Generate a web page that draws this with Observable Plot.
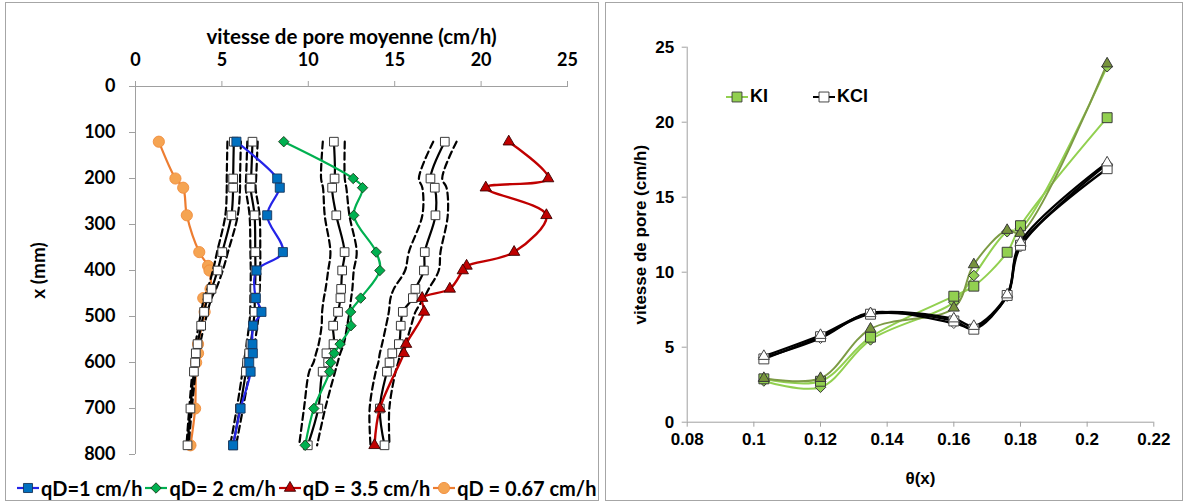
<!DOCTYPE html>
<html><head><meta charset="utf-8">
<script src="https://cdn.jsdelivr.net/npm/d3@7"></script>
<script src="https://cdn.jsdelivr.net/npm/@observablehq/plot@0.6"></script>
<style>
html,body{margin:0;padding:0;background:#fff;}
body{width:1184px;height:502px;position:relative;overflow:hidden;}
.frame{position:absolute;border:1px solid #a6a6a6;box-sizing:border-box;}
#left{position:absolute;left:0;top:0;}
#right{position:absolute;left:600px;top:0;}
#legL{position:absolute;left:17px;top:476px;display:flex;align-items:center;gap:3px;font:bold 20px Lato,sans-serif;white-space:nowrap;}
#legR{position:absolute;left:726px;top:86px;display:flex;align-items:center;font:bold 18px "Liberation Sans",Arial,sans-serif;white-space:nowrap;}
.item{display:flex;align-items:center;gap:2px;}
svg g[aria-label$="-axis tick"]{stroke:#a0a0a0;}
</style></head>
<body>
<div class="frame" style="left:5px;top:2px;width:594px;height:499px"></div>
<div class="frame" style="left:605px;top:2px;width:578px;height:499px"></div>
<div id="left"></div>
<div id="right"></div>
<div id="legL"></div>
<div id="legR"></div>
<script>
// ---------- LEFT PANEL DATA ----------
const xTicksL = [0, 5, 10, 15, 20, 25];
const yTicksL = [0, 100, 200, 300, 400, 500, 600, 700, 800];
const depthsBG = [120, 200, 220, 280, 360, 400, 460, 490, 520, 560, 580, 600, 620, 700, 780];
const qd1 = [5.84, 8.2, 8.35, 7.62, 8.53, 7.0, 6.96, 7.29, 6.81, 6.77, 6.79, 6.58, 6.66, 6.08, 5.65];
const qd2 = [8.58, 12.6, 13.14, 12.63, 13.93, 14.14, 13.03, 12.45, 12.47, 11.84, 11.5, 11.3, 11.24, 10.32, 9.82];
const depthsRed = [120, 200, 220, 280, 360, 390, 400, 440, 460, 490, 560, 580, 700, 780];
const qd35 = [21.6, 23.88, 20.27, 23.78, 21.91, 19.16, 18.94, 18.19, 16.59, 16.7, 15.66, 15.53, 14.14, 13.83];
const depthsOr = [120, 200, 220, 280, 360, 390, 400, 440, 460, 490, 560, 580, 600, 700, 780];
const qd067 = [1.35, 2.31, 2.76, 2.97, 3.69, 4.2, 4.28, 4.34, 3.92, 4.0, 3.62, 3.62, 3.51, 3.45, 3.18];

const depthsModel = [120, 200, 220, 280, 360, 400, 440, 460, 490, 520, 560, 580, 600, 620, 700, 780];
const m1 = [5.69, 5.65, 5.65, 5.55, 5.02, 4.75, 4.4, 4.17, 3.97, 3.8, 3.59, 3.49, 3.45, 3.38, 3.18, 3.01];
const m1Lo = [5.32, 5.28, 5.28, 5.2, 4.72, 4.48, 4.17, 3.97, 3.8, 3.65, 3.47, 3.38, 3.35, 3.29, 3.11, 2.95];
const m1Hi = [6.1, 6.05, 6.05, 5.92, 5.35, 5.05, 4.66, 4.4, 4.17, 3.98, 3.73, 3.62, 3.56, 3.48, 3.26, 3.08];
const m2 = [6.77, 6.69, 6.66, 6.89, 6.93, 6.94, 6.92, 6.9, 6.89, 6.81, 6.66, 6.58, 6.46, 6.39, 6.04, 5.65];
const m2Lo = [6.47, 6.4, 6.38, 6.6, 6.65, 6.67, 6.66, 6.65, 6.64, 6.57, 6.43, 6.36, 6.25, 6.19, 5.86, 5.48];
const m2Hi = [7.07, 6.98, 6.95, 7.18, 7.22, 7.22, 7.19, 7.16, 7.14, 7.05, 6.89, 6.8, 6.67, 6.59, 6.22, 5.82];
const m3 = [11.48, 11.52, 11.38, 11.62, 12.1, 11.96, 11.9, 11.86, 11.72, 11.44, 11.46, 11.05, 11.15, 10.83, 10.58, 9.97];
const m3Lo = [10.84, 10.74, 10.85, 10.95, 11.28, 11.15, 11.0, 10.9, 10.8, 10.77, 10.6, 10.45, 10.3, 10.05, 9.75, 9.47];
const m3Hi = [12.11, 12.11, 12.2, 12.38, 12.8, 12.63, 12.55, 12.48, 12.38, 12.25, 12.05, 11.85, 11.7, 11.55, 10.98, 10.51];
const m4 = [17.9, 17.07, 17.32, 17.36, 16.74, 16.69, 16.2, 16.05, 15.47, 15.35, 15.24, 14.86, 14.7, 14.55, 14.14, 14.41];
const m4Lo = [17.23, 16.4, 16.6, 16.6, 15.82, 15.6, 14.95, 14.76, 14.66, 14.5, 14.27, 14.14, 14.05, 13.9, 13.55, 13.6];
const m4Hi = [18.58, 17.75, 18.0, 18.07, 17.65, 17.55, 16.97, 16.69, 16.2, 15.95, 15.62, 15.34, 15.2, 15.05, 14.69, 14.7];

// ---------- RIGHT PANEL DATA ----------
const thetaTicks = [0.08, 0.1, 0.12, 0.14, 0.16, 0.18, 0.2, 0.22];
const vTicks = [0, 5, 10, 15, 20, 25];
const theta = [0.103, 0.12, 0.135, 0.16, 0.166, 0.176, 0.18, 0.206];
const kiSquare = [2.89, 2.73, 5.67, 8.4, 9.07, 11.33, 13.1, 20.3];
const kiDiamond = [2.75, 2.33, 5.49, 8.0, 9.78, 12.7, 12.9, 23.7];
const kiTriangle = [2.93, 2.93, 6.22, 7.62, 10.51, 12.8, 12.6, 23.9];
const kclSquare = [4.22, 5.7, 7.2, 6.75, 6.2, 8.45, 11.8, 16.9];
const kclDiamond = [4.3, 5.6, 7.3, 6.6, 6.3, 8.4, 11.7, 17.2];
const kclTriangle = [4.4, 5.8, 7.25, 6.9, 6.4, 8.5, 12.0, 17.3];

// ---------- helpers ----------
const rows = (vals, ds) => vals.map((v, i) => ({v, d: ds[i]}));
const tRows = (vals) => vals.map((v, i) => ({t: theta[i], v}));
const symArea = (r) => Math.PI * r * r;

const fontL = "Lato, 'Open Sans', sans-serif";
const fontR = "'Liberation Sans', Arial, sans-serif";

const leftSeries = [
  {name: "qD=1 cm/h", data: rows(qd1, depthsBG), line: "#2424e8", fill: "#0070c0", stroke: "#17375e", symbol: "square", r: 5.1},
  {name: "qD= 2 cm/h", data: rows(qd2, depthsBG), line: "#00b050", fill: "#00b050", stroke: "#1b3b1b", symbol: "diamond2", r: 4.7},
  {name: "qD = 3.5 cm/h", data: rows(qd35, depthsRed), line: "#c00000", fill: "#c00000", stroke: "#3b0000", symbol: "triangle", r: 4.2},
  {name: "qD = 0.67 cm/h", data: rows(qd067, depthsOr), line: "#ed7d31", fill: "#f5a452", stroke: "#f08c3c", symbol: "circle", r: 5.6}
];
const models = [[m1, m1Lo, m1Hi], [m2, m2Lo, m2Hi], [m3, m3Lo, m3Hi], [m4, m4Lo, m4Hi]];

function seriesMarks(s, lw) {
  return [
    Plot.line(s.data, {x: "v", y: "d", curve: "catmull-rom", stroke: s.line, strokeWidth: lw}),
    Plot.dot(s.data, {x: "v", y: "d", symbol: s.symbol, r: s.r, fill: s.fill, stroke: s.stroke, strokeWidth: 0.9})
  ];
}
function modelMarks([m, lo, hi]) {
  const mr = rows(m, depthsModel);
  return [
    Plot.line(rows(lo, depthsModel), {x: "v", y: "d", curve: "catmull-rom", stroke: "#000", strokeWidth: 2.2, strokeDasharray: "7,4"}),
    Plot.line(rows(hi, depthsModel), {x: "v", y: "d", curve: "catmull-rom", stroke: "#000", strokeWidth: 2.2, strokeDasharray: "7,4"}),
    Plot.line(mr, {x: "v", y: "d", curve: "catmull-rom", stroke: "#000", strokeWidth: 2.2}),
    Plot.dot(mr, {x: "v", y: "d", symbol: "square", r: 4.9, fill: "#fff", stroke: "#3a3a3a", strokeWidth: 1})
  ];
}

const left = Plot.plot({
  width: 600, height: 470,
  marginTop: 86, marginBottom: 16, marginLeft: 135, marginRight: 33,
  style: {fontFamily: fontL, background: "transparent", overflow: "visible", color: "#000"},
  x: {domain: [0, 25]},
  y: {domain: [0, 800], reverse: true},
  marks: [
    Plot.ruleY([0], {stroke: "#a0a0a0"}),
    Plot.ruleX([0], {stroke: "#a0a0a0"}),
    Plot.axisX({anchor: "top", ticks: xTicksL, tickSize: 6, tickPadding: 15, fontSize: 18, fontWeight: "bold", label: null}),
    Plot.axisY({anchor: "left", ticks: yTicksL, tickSize: 6, tickPadding: 14, fontSize: 18, fontWeight: "bold", label: null}),
    Plot.text(["vitesse de pore moyenne (cm/h)"], {frameAnchor: "top", dy: -49, lineAnchor: "middle", fontSize: 20.5, fontWeight: "bold"}),
    Plot.text(["x (mm)"], {frameAnchor: "left", dx: -97, rotate: -90, textAnchor: "middle", lineAnchor: "middle", fontSize: 19, fontWeight: "bold"}),
    ...seriesMarks(leftSeries[3], 2.2),
    ...models.flatMap(modelMarks),
    ...seriesMarks(leftSeries[0], 2.2),
    ...seriesMarks(leftSeries[1], 2.2),
    ...seriesMarks(leftSeries[2], 2.4)
  ]
});
document.getElementById("left").append(left);

// ---------- RIGHT PANEL ----------
const kiSeries = [
  {data: tRows(kiDiamond), line: "#92d050", fill: "#92d050", stroke: "#3a3a3a", symbol: "diamond2", r: 4.8},
  {data: tRows(kiSquare), line: "#92d050", fill: "#92d050", stroke: "#3a3a3a", symbol: "square", r: 5.6},
  {data: tRows(kiTriangle), line: "#7d9b45", fill: "#77933c", stroke: "#3a3a3a", symbol: "triangle", r: 4.1}
];
const kclSeries = [
  {data: tRows(kclDiamond), symbol: "diamond2", r: 4.8},
  {data: tRows(kclSquare), symbol: "square", r: 5.6},
  {data: tRows(kclTriangle), symbol: "triangle", r: 4.1}
];

const right = Plot.plot({
  width: 584, height: 502,
  marginTop: 46.7, marginBottom: 80.3, marginLeft: 86.7, marginRight: 30.7,
  style: {fontFamily: fontR, background: "transparent", overflow: "visible", color: "#000"},
  x: {domain: [0.08, 0.22]},
  y: {domain: [0, 25]},
  marks: [
    Plot.ruleY([0], {stroke: "#a0a0a0"}),
    Plot.ruleX([0.08], {stroke: "#a0a0a0"}),
    Plot.axisX({ticks: thetaTicks, tickFormat: d => String(d), tickSize: 5, tickPadding: 6, fontSize: 17, fontWeight: "bold", label: null}),
    Plot.axisY({ticks: vTicks, tickSize: 5, tickPadding: 8, fontSize: 17, fontWeight: "bold", label: null}),
    Plot.text(["θ(x)"], {frameAnchor: "bottom", dy: 56, lineAnchor: "middle", fontSize: 17, fontWeight: "bold"}),
    Plot.text(["vitesse de pore (cm/h)"], {frameAnchor: "left", dx: -47, rotate: -90, textAnchor: "middle", lineAnchor: "middle", fontSize: 17, fontWeight: "bold"}),
    ...kiSeries.map(s => Plot.line(s.data, {x: "t", y: "v", curve: "catmull-rom", stroke: s.line, strokeWidth: 2})),
    ...kiSeries.map(s => Plot.dot(s.data, {x: "t", y: "v", symbol: s.symbol, r: s.r, fill: s.fill, stroke: s.stroke, strokeWidth: 1})),
    ...kclSeries.map(s => Plot.line(s.data, {x: "t", y: "v", curve: "catmull-rom", stroke: "#000", strokeWidth: 2.3})),
    ...kclSeries.map(s => Plot.dot(s.data, {x: "t", y: "v", symbol: s.symbol, r: s.r, fill: "#fff", stroke: "#444", strokeWidth: 1}))
  ]
});
document.getElementById("right").append(right);

// ---------- LEGENDS ----------
const d3sym = {square: d3.symbolSquare, diamond2: d3.symbolDiamond2, triangle: d3.symbolTriangle, circle: d3.symbolCircle};
function glyph(symbol, r, fill, stroke, line, lw, w) {
  const p = d3.symbol(d3sym[symbol], symArea(r))();
  return `<svg width="${w}" height="16" style="display:block"><line x1="0" x2="${w}" y1="8" y2="8" stroke="${line}" stroke-width="${lw}"/><path d="${p}" transform="translate(${w/2},8)" fill="${fill}" stroke="${stroke}" stroke-width="0.9"/></svg>`;
}
const legL = document.getElementById("legL");
leftSeries.forEach(s => {
  const it = document.createElement("div");
  it.className = "item";
  it.innerHTML = glyph(s.symbol, s.r, s.fill, s.stroke, s.line, 2.2, 22) + `<span>${s.name}</span>`;
  legL.append(it);
});
const legR = document.getElementById("legR");
[
  {name: "KI", fill: "#92d050", stroke: "#3a3a3a", line: "#92d050", ml: 0},
  {name: "KCl", fill: "#fff", stroke: "#333", line: "#000", ml: 45}
].forEach(s => {
  const it = document.createElement("div");
  it.className = "item";
  it.style.marginLeft = s.ml + "px";
  it.innerHTML = glyph("square", 5.6, s.fill, s.stroke, s.line, 2, 22) + `<span>${s.name}</span>`;
  legR.append(it);
});
</script>
</body></html>
